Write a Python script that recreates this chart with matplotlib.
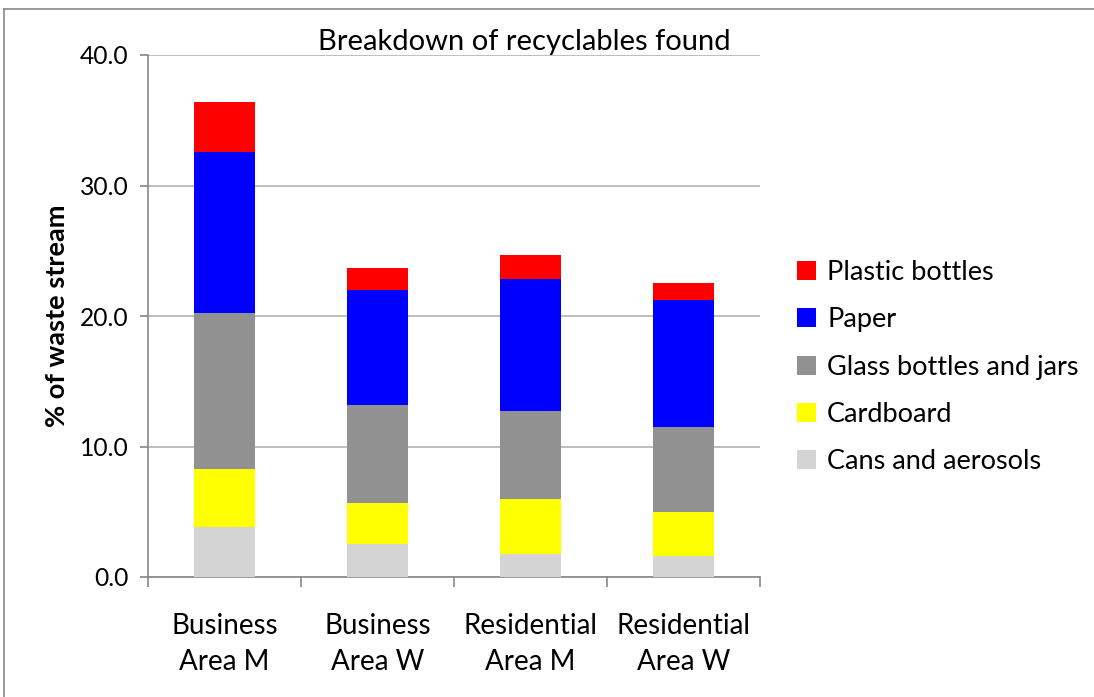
import matplotlib
matplotlib.use("Agg")
import matplotlib.pyplot as plt
from matplotlib.patches import Patch
from matplotlib.lines import Line2D
import numpy as np

categories = ["Business\nArea M", "Business\nArea W", "Residential\nArea M", "Residential\nArea W"]
series_names = ["Cans and aerosols", "Cardboard", "Glass bottles and jars", "Paper", "Plastic bottles"]
cans = [3.8, 2.5, 1.8, 1.6]
cardboard = [4.5, 3.2, 4.2, 3.4]
glass = [11.9, 7.5, 6.7, 6.5]
paper = [12.4, 8.8, 10.1, 9.7]
plastic = [3.8, 1.7, 1.9, 1.3]
colors = ["#D4D4D4", "#FFFF00", "#919191", "#0000FF", "#FF0000"]
yticks = [0, 10, 20, 30, 40]

plt.rcParams['font.family'] = ['Lato', 'DejaVu Sans']

fig = plt.figure(figsize=(10.94, 6.97), dpi=100)
ax = fig.add_axes([148/1094, 1-577/697, (760-148)/1094, (577-55)/697])

x = np.arange(len(categories))
bottom = np.zeros(len(categories))
handles = []
for name, vals, c in zip(series_names, [cans, cardboard, glass, paper, plastic], colors):
    ax.bar(x, vals, width=0.405, bottom=bottom, color=c, zorder=3, linewidth=0)
    bottom += np.array(vals)
    handles.append(Patch(facecolor=c, label=name))

ax.set_xlim(-0.5, len(categories) - 0.5)
ax.set_ylim(0, 40)
ax.set_yticks(yticks)
ax.set_yticklabels([f"{v:.1f}" for v in yticks], fontsize=17.7)
ax.yaxis.grid(True, color="#b3b3b3", linewidth=1.2, zorder=0)
ax.set_xticks(x)
ax.set_xticklabels(categories, fontsize=20, linespacing=1.45)
ax.tick_params(axis='x', which='major', length=0, pad=26)
ax.set_xticks(np.arange(-0.5, len(categories)), minor=True)
ax.tick_params(axis='x', which='minor', length=7, color="#888888", width=1.2)
ax.tick_params(axis='y', length=6, color="#888888", width=1.2, pad=8)
for s in ["top", "right"]:
    ax.spines[s].set_visible(False)
for s in ["left", "bottom"]:
    ax.spines[s].set_color("#888888")
    ax.spines[s].set_linewidth(1.2)

ax.set_ylabel("% of waste stream", fontsize=19.5, fontweight="bold", labelpad=8)
ax.text(0.615, 1.0, "Breakdown of recyclables found", transform=ax.transAxes,
        ha="center", va="bottom", fontsize=21)

leg = fig.legend(handles=handles[::-1], loc="center left", bbox_to_anchor=(773/1094, 1-367/697),
                 frameon=False, fontsize=19.5, handlelength=0.7, handleheight=0.7,
                 labelspacing=0.82, handletextpad=0.4)

# outer chart border (top and left only visible)
fig.add_artist(Line2D([4/1094, 1.0], [1-9/697, 1-9/697], transform=fig.transFigure,
                      color="#888888", linewidth=1.2))
fig.add_artist(Line2D([4/1094, 4/1094], [0.0, 1-9/697], transform=fig.transFigure,
                      color="#888888", linewidth=1.2))

fig.savefig("out.png", dpi=100)
